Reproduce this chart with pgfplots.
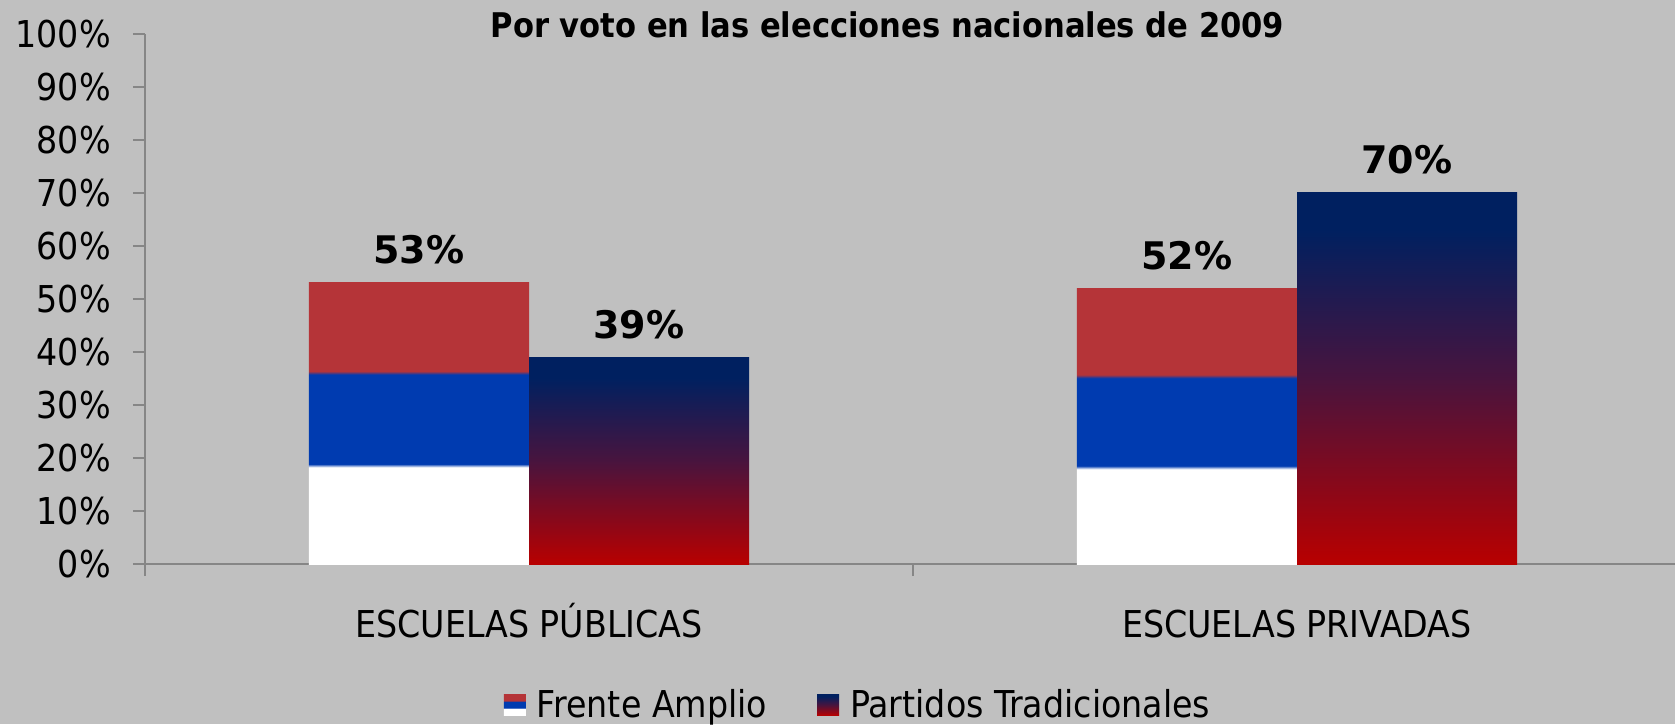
\documentclass[border=0pt]{standalone}
\usepackage{pgfplots}
\pgfplotsset{compat=1.18}
\usepackage{fontspec}
\setmainfont{DejaVu Sans Condensed}
\newfontfamily\valfont{DejaVu Sans}

\definecolor{bg}{RGB}{192,192,192}
\definecolor{axgray}{RGB}{134,134,134}
\definecolor{fared}{RGB}{181,52,56}
\definecolor{fablue}{RGB}{0,59,176}
\definecolor{ptred}{RGB}{184,0,0}
\definecolor{ptmid}{RGB}{72,20,62}
\definecolor{ptnavy}{RGB}{0,32,96}

% flag-like bands: white / blue / red (bar spans 25bp..75bp)
\pgfdeclareverticalshading{fa}{100bp}{color(0bp)=(white); color(42.2bp)=(white);
  color(42.8bp)=(fablue); color(58.7bp)=(fablue); color(59.3bp)=(fared); color(100bp)=(fared)}
\pgfdeclareverticalshading{pt}{100bp}{color(0bp)=(ptred); color(25bp)=(ptred);
  color(50bp)=(ptmid); color(70bp)=(ptnavy); color(100bp)=(ptnavy)}

\newcommand{\tickfont}{\fontsize{18.5}{21}\selectfont}

\begin{document}
\begin{tikzpicture}
\useasboundingbox (0,0) rectangle (837.5pt,362pt);
\fill[bg] (0,0) rectangle (837.5pt,362pt);
\begin{axis}[
  at={(72.5pt,80pt)}, anchor=south west,
  scale only axis, width=768pt, height=265.15pt,
  xmin=-0.5, xmax=1.5, ymin=0, ymax=100,
  axis lines*=left,
  axis line style={draw=axgray, line width=1pt},
  tick style={draw=axgray, line width=1pt},
  tick align=outside, major tick length=6pt,
  xtick={-0.5,0.5,1.5}, xticklabels={},
  extra x ticks={0,1},
  extra x tick labels={ESCUELAS PÚBLICAS, ESCUELAS PRIVADAS},
  extra x tick style={major tick length=0pt,
    xticklabel style={anchor=base, yshift=-36.8pt}},
  ytick={0,10,...,100},
  yticklabel={\pgfmathprintnumber{\tick}\%},
  yticklabel style={anchor=east, inner sep=0pt, xshift=-10.9pt},
  /pgf/number format/assume math mode=true,
  ticklabel style={font=\tickfont},
  clip=false,
  title={Por voto en las elecciones nacionales de 2009},
  title style={at={(0.4834,0.9938)}, anchor=base, inner sep=0pt, yshift=-6.5pt,
    font=\bfseries\fontsize{17}{20}\selectfont},
  legend columns=-1,
  legend style={at={(0.2337,-0.2655)}, anchor=west, draw=none, fill=none,
    inner sep=0pt, outer sep=0pt, font=\tickfont,
    cells={anchor=base west}, nodes={inner sep=0pt}, column sep=0pt,
    /tikz/every even column/.append style={column sep=25pt}},
  nodes near coords={\pgfmathprintnumber{\pgfplotspointmeta}\%},
  every node near coord/.append style={font=\valfont\bfseries\fontsize{19}{21}\selectfont,
    anchor=base, yshift=9.5pt, inner sep=0pt, text=black},
  fa/.style={ybar, bar width=0.2865, bar shift=-0.14325, draw=none, shade, shading=fa,
    every node near coord/.append style={xshift=-55pt}},
  pt/.style={ybar, bar width=0.2865, bar shift=0.14325, draw=none, shade, shading=pt,
    every node near coord/.append style={xshift=55pt}},
]
\addplot[fa, legend image code/.code={\shade[shading=fa] (0pt,1pt) rectangle (11pt,11.5pt);
    \path (16.5pt,0pt);}]
  coordinates {(0,53)};
\addlegendentry{Frente Amplio}
\addplot[pt, legend image code/.code={\shade[shading=pt] (0pt,1pt) rectangle (11pt,11.5pt);
    \path (16.5pt,0pt);}]
  coordinates {(0,39)};
\addlegendentry{Partidos Tradicionales}
\addplot[fa, forget plot] coordinates {(1,52)};
\addplot[pt, forget plot] coordinates {(1,70)};
\end{axis}
\end{tikzpicture}
\end{document}
